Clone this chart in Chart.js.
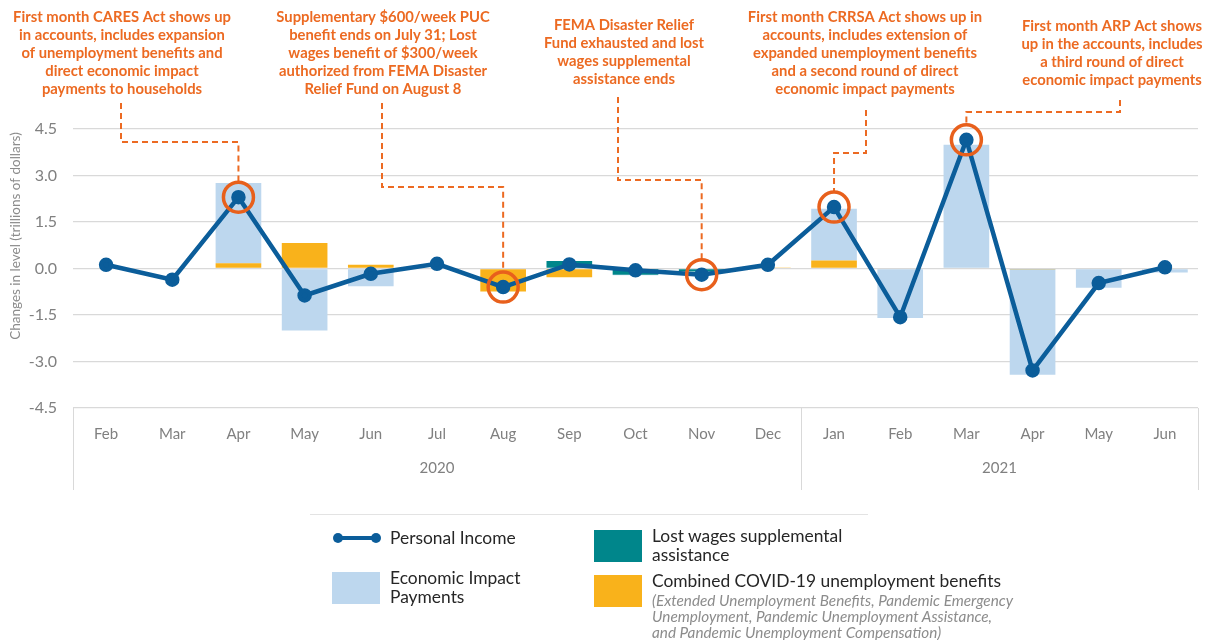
<!DOCTYPE html>
<html>
<head>
<meta charset="utf-8">
<script src="https://cdn.jsdelivr.net/npm/chart.js@4.4.1/dist/chart.umd.min.js"></script>
<style>
  body { margin: 0; background: #fff; font-family: Lato, "Noto Sans", sans-serif; }
  #wrap { position: relative; width: 1220px; height: 640px; }
  .lg { position: absolute; color: #262626; font-size: 17.4px; line-height: 19px; }
  .box { position: absolute; width: 48px; height: 32px; }
  .sub { color: #8c8c8c; font-style: italic; font-size: 15.3px; line-height: 16px; margin-top: 2px; }
</style>
</head>
<body>
<div id="wrap">
  <canvas id="myChart" width="1220" height="640"></canvas>

  <!-- legend -->
  <div style="position:absolute;left:310px;top:514px;width:558px;height:1px;background:#e3e3e3"></div>
  <svg style="position:absolute;left:332px;top:531px" width="50" height="14">
    <line x1="6" y1="7" x2="44" y2="7" stroke="#0b5d9a" stroke-width="4"/>
    <circle cx="6" cy="7" r="5" fill="#0b5d9a"/><circle cx="44" cy="7" r="5" fill="#0b5d9a"/>
  </svg>
  <div class="lg" style="left:390px;top:528px">Personal Income</div>
  <div class="box" style="left:332px;top:572px;background:#bdd7ee"></div>
  <div class="lg" style="left:390px;top:568px">Economic Impact<br>Payments</div>
  <div class="box" style="left:594px;top:530px;background:#00868b"></div>
  <div class="lg" style="left:652px;top:526px">Lost wages supplemental<br>assistance</div>
  <div class="box" style="left:594px;top:575px;background:#f9b21b"></div>
  <div class="lg" style="left:652px;top:571px">Combined COVID-19 unemployment benefits
    <div class="sub">(Extended Unemployment Benefits, Pandemic Emergency<br>Unemployment, Pandemic Unemployment Assistance,<br>and Pandemic Unemployment Compensation)</div>
  </div>
</div>

<script>
// data
var months = ['Feb', 'Mar', 'Apr', 'May', 'Jun', 'Jul', 'Aug', 'Sep', 'Oct', 'Nov', 'Dec', 'Jan', 'Feb', 'Mar', 'Apr', 'May', 'Jun'];
var years = ['2020', '2021'];
var yearStarts = [0, 11];
var personalIncome = [0.12, -0.36, 2.30, -0.87, -0.17, 0.15, -0.60, 0.13, -0.06, -0.20, 0.12, 1.98, -1.57, 4.15, -3.29, -0.47, 0.04];
var unemployment = [0, 0, 0.17, 0.82, 0.12, 0, -0.74, -0.28, 0, 0, 0.03, 0.26, 0, 0, -0.02, 0, 0];
var lostWages = [0, 0, 0, 0, 0, 0, 0, 0.24, -0.20, -0.10, 0, 0, 0, 0, 0, 0, 0];
var impactPayments = [0, 0, 2.59, -2.00, -0.57, 0, 0, 0, -0.02, 0, 0, 1.67, -1.60, 3.99, -3.41, -0.62, -0.13];
var yTicks = [-4.5, -3.0, -1.5, 0.0, 1.5, 3.0, 4.5];

var notes = [
    ['First month CARES Act shows up', 'in accounts, includes expansion', 'of unemployment benefits and', 'direct economic impact', 'payments to households'],
    ['Supplementary $600/week PUC', 'benefit ends on July 31; Lost', 'wages benefit of $300/week', 'authorized from FEMA Disaster', 'Relief Fund on August 8'],
    ['FEMA Disaster Relief', 'Fund exhausted and lost', 'wages supplemental', 'assistance ends'],
    ['First month CRRSA Act shows up in', 'accounts, includes extension of', 'expanded unemployment benefits', 'and a second round of direct', 'economic impact payments'],
    ['First month ARP Act shows', 'up in the accounts, includes', 'a third round of direct', 'economic impact payments']
];
var noteIndex = [2, 6, 9, 11, 13];

// where each note sits (pixels) and where its dashed leader bends
var noteLayout = [
    { x: 122, y: 17, lineX: 121, lineTop: 103, bendY: 142 },
    { x: 383, y: 17, lineX: 382, lineTop: 103, bendY: 187 },
    { x: 624, y: 25, lineX: 618, lineTop: 97, bendY: 180 },
    { x: 865, y: 17, lineX: 866, lineTop: 110, bendY: 153 },
    { x: 1112, y: 26, lineX: 1120, lineTop: 100, bendY: 112 }
];

var ORANGE = '#ec6a22';

var notesPlugin = {
    id: 'notes',
    afterDraw: function(chart) {
        var c = chart.ctx;
        var xs = chart.scales.x, ys = chart.scales.y;
        var area = chart.chartArea;
        c.save();

        // axis title
        c.save();
        c.translate(16, 236);
        c.rotate(-Math.PI / 2);
        c.fillStyle = '#8c8c8c';
        c.font = '13.5px Lato';
        c.textAlign = 'center';
        c.textBaseline = 'middle';
        c.fillText('Changes in level (trillions of dollars)', 0, 0);
        c.restore();

        // category box + years
        var boxBottom = 490;
        c.strokeStyle = '#d9d9d9';
        c.lineWidth = 1;
        var edges = [area.left, area.right];
        for (var k = 1; k < yearStarts.length; k++) {
            edges.push((xs.getPixelForValue(yearStarts[k] - 1) + xs.getPixelForValue(yearStarts[k])) / 2);
        }
        edges.forEach(function(ex) {
            c.beginPath();
            c.moveTo(Math.round(ex) + 0.5, area.bottom);
            c.lineTo(Math.round(ex) + 0.5, boxBottom);
            c.stroke();
        });
        c.fillStyle = '#808080';
        c.font = '15px Lato';
        c.textAlign = 'center';
        c.textBaseline = 'middle';
        for (var k = 0; k < years.length; k++) {
            var a = k === 0 ? area.left : edges[1 + k];
            var b = k === years.length - 1 ? area.right : edges[2 + k];
            c.fillText(years[k], (a + b) / 2, 468);
        }

        // annotations
        c.font = 'bold 14.8px Lato';
        c.fillStyle = ORANGE;
        notes.forEach(function(lines, i) {
            var L = noteLayout[i];
            lines.forEach(function(t, j) {
                c.fillText(t, L.x, L.y + j * 18);
            });
            var px = xs.getPixelForValue(noteIndex[i]);
            var py = ys.getPixelForValue(personalIncome[noteIndex[i]]);
            c.strokeStyle = ORANGE;
            c.lineWidth = 2;
            c.setLineDash([6, 4]);
            c.beginPath();
            c.moveTo(L.lineX, L.lineTop);
            c.lineTo(L.lineX, L.bendY);
            c.lineTo(px, L.bendY);
            c.lineTo(px, py - 16);
            c.stroke();
            c.setLineDash([]);
            c.strokeStyle = '#e8601c';
            c.lineWidth = 3.5;
            c.beginPath();
            c.arc(px, py, 15, 0, Math.PI * 2);
            c.stroke();
        });
        c.restore();
    }
};

var ctx = document.getElementById('myChart').getContext('2d');
var myChart = new Chart(ctx, {
    type: 'bar',
    data: {
        labels: months,
        datasets: [{
            type: 'line',
            label: 'Personal Income',
            data: personalIncome,
            stack: 'pi',
            order: 0,
            borderColor: '#0b5d9a',
            backgroundColor: '#0b5d9a',
            borderWidth: 4.5,
            pointRadius: 5,
            pointHoverRadius: 5,
            tension: 0
        }, {
            label: 'Combined COVID-19 unemployment benefits',
            data: unemployment,
            stack: 'bars',
            order: 1,
            backgroundColor: '#f9b21b'
        }, {
            label: 'Lost wages supplemental assistance',
            data: lostWages,
            stack: 'bars',
            order: 1,
            backgroundColor: '#00868b'
        }, {
            label: 'Economic Impact Payments',
            data: impactPayments,
            stack: 'bars',
            order: 1,
            backgroundColor: '#bdd7ee'
        }]
    },
    options: {
        responsive: false,
        animation: false,
        devicePixelRatio: 1,
        layout: { padding: { top: 129, right: 22, left: 0, bottom: 0 } },
        datasets: { bar: { categoryPercentage: 1, barPercentage: 0.69 } },
        plugins: { legend: { display: false }, tooltip: { enabled: false } },
        scales: {
            x: {
                stacked: true,
                grid: { display: false, drawTicks: false },
                border: { display: false },
                ticks: { color: '#808080', font: { family: 'Lato', size: 15 }, padding: 17, maxRotation: 0, autoSkip: false },
                afterFit: function(s) { s.height = 232; }
            },
            y: {
                stacked: true,
                min: -4.5,
                max: 4.5,
                afterBuildTicks: function(s) { s.ticks = yTicks.map(function(v) { return { value: v }; }); },
                grid: { color: '#d9d9d9', drawTicks: false, lineWidth: 1.3 },
                border: { display: false },
                ticks: {
                    color: '#808080',
                    font: { family: 'Lato', size: 16 },
                    padding: 16,
                    callback: function(v) { return v.toFixed(1); }
                },
                afterFit: function(s) { s.width = 73; }
            }
        }
    },
    plugins: [notesPlugin]
});
</script>
</body>
</html>
